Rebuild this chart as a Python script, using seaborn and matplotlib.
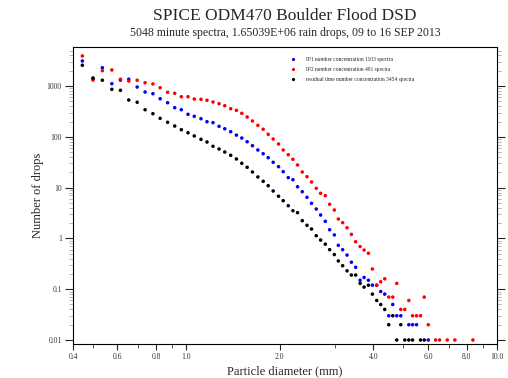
import numpy as np
import pandas as pd
import matplotlib
matplotlib.use('Agg')
import matplotlib.pyplot as plt
from matplotlib.ticker import FixedLocator, FixedFormatter, NullFormatter
import seaborn as sns

# bin centre diameters (mm)
diameter = [0.463, 0.501, 0.537, 0.576, 0.614, 0.653, 0.695, 0.737, 0.781, 0.824,
            0.871, 0.918, 0.964, 1.013, 1.061, 1.115, 1.166, 1.219, 1.275, 1.330,
            1.390, 1.450, 1.509, 1.570, 1.633, 1.700, 1.768, 1.835, 1.904, 1.981,
            2.051, 2.129, 2.204, 2.281, 2.362, 2.446, 2.530, 2.620, 2.706, 2.802,
            2.893, 2.996, 3.086, 3.186, 3.292, 3.399, 3.509, 3.626, 3.735, 3.856,
            3.972, 4.101, 4.225, 4.352, 4.484, 4.619, 4.758, 4.902, 5.050, 5.202,
            5.348, 5.508, 5.674, 5.832, 6.008, 6.345, 6.536, 6.918, 7.318, 8.366]

nan = np.nan
ip1_counts = [3110, 1370, 2290, 1110, 1300, 1360, 955, 762, 705, 562,
              469, 374, 341, 277, 253, 227, 198, 190, 161, 144,
              126, 108, 94.7, 80.1, 66.8, 55.0, 46.5, 38.8, 31.5, 25.8,
              20.6, 15.7, 14.3, 10.4, 8.30, 6.44, 4.91, 3.79, 2.89, 2.17,
              1.48, 1.17, 0.73, 0.60, 0.47, 0.34, 0.27, 0.15, 0.17, 0.15,
              0.12, 0.12, 0.09, 0.08, 0.03, 0.05, 0.03, 0.03, nan, 0.02,
              0.02, 0.02, nan, nan, 0.01, nan, nan, nan, nan, nan]
ip2_counts = [3900, 1310, 2000, 2070, 1360, 1250, 1300, 1160, 1100, 926,
              751, 718, 615, 615, 555, 547, 523, 484, 448, 409,
              357, 332, 290, 245, 205, 168, 141, 112, 90.5, 72.2,
              55.0, 44.4, 36.1, 27.9, 20.3, 16.4, 12.9, 9.69, 7.72, 6.93,
              4.69, 3.62, 2.41, 2.04, 1.62, 1.20, 0.86, 0.69, 0.59, 0.51,
              0.25, 0.12, 0.14, 0.16, 0.07, 0.07, 0.13, 0.04, 0.04, 0.06,
              0.03, 0.03, 0.03, 0.07, 0.02, 0.01, 0.01, 0.01, 0.01, 0.01]
resid_counts = [2560, 1440, 1300, 861, 823, 530, 478, 341, 285, 231,
                193, 163, 138, 120, 104, 89.3, 79.0, 65.0, 57.5, 50.2,
                43.2, 36.6, 30.1, 25.1, 20.3, 16.2, 13.3, 10.9, 8.57, 6.77,
                5.52, 4.40, 3.51, 3.21, 2.23, 1.81, 1.53, 1.13, 0.93, 0.77,
                0.60, 0.48, 0.36, 0.29, 0.23, 0.19, 0.19, 0.13, 0.11, 0.12,
                0.08, 0.06, 0.05, 0.04, 0.02, 0.03, 0.01, 0.02, 0.01, 0.01,
                0.01, nan, 0.01, 0.01, nan, nan, nan, nan, nan, nan]

series_labels = ['IP1 number concentration 1103 spectra',
                 'IP2 number concentration 491 spectra',
                 'residual time number concentration 3454 spectra']
series_colors = ['#0000ff', '#ff0000', '#000000']

x_ticks = [0.432, 0.6, 0.8, 1.0, 2.0, 4.0, 6.0, 8.0, 10.0]
x_ticklabels = ['0.4', '0.6', '0.8', '1.0', '2.0', '4.0', '6.0', '8.0', '10.0']
x_minor = [0.5, 0.7, 0.9, 3.0, 5.0, 7.0, 9.0]
y_ticks = [0.01, 0.1, 1, 10, 100, 1000]
y_ticklabels = ['0.01', '0.1', '1', '10', '100', '1000']

df = pd.DataFrame({'diameter': diameter,
                   series_labels[0]: ip1_counts,
                   series_labels[1]: ip2_counts,
                   series_labels[2]: resid_counts})
df = df.melt(id_vars='diameter', var_name='series', value_name='count').dropna()

sns.set_style('ticks')
plt.rcParams['font.family'] = ['Liberation Serif', 'DejaVu Serif']

fig = plt.figure(figsize=(5.08, 3.78), dpi=100)
ax = fig.add_axes([73/508, 34/378, 424/508, 297/378])

sns.scatterplot(data=df, x='diameter', y='count', hue='series', hue_order=series_labels,
                palette=dict(zip(series_labels, series_colors)), s=6.5, linewidth=0,
                ax=ax, legend=True)

ax.set_xscale('log')
ax.set_yscale('log')
ax.set_xlim(0.432, 10.0)
ax.set_ylim(0.00834, 5860)

ax.xaxis.set_major_locator(FixedLocator(x_ticks))
ax.xaxis.set_major_formatter(FixedFormatter(x_ticklabels))
ax.xaxis.set_minor_locator(FixedLocator(x_minor))
ax.xaxis.set_minor_formatter(NullFormatter())
ax.yaxis.set_major_locator(FixedLocator(y_ticks))
ax.yaxis.set_major_formatter(FixedFormatter(y_ticklabels))
ax.yaxis.set_minor_locator(FixedLocator([m * 10.0**e for e in range(-2, 4) for m in range(2, 10)]))
ax.yaxis.set_minor_formatter(NullFormatter())

for sp in ax.spines.values():
    sp.set_linewidth(0.8)
    sp.set_color('black')
    sp.set_visible(True)

ax.tick_params(axis='x', which='major', length=4.5, width=0.8, direction='out', labelsize=5.5,
               pad=2, labelcolor='#333333')
ax.tick_params(axis='x', which='minor', length=3, width=0.7, direction='out', color='#555555')
ax.tick_params(axis='y', which='major', length=6, width=0.8, direction='out', labelsize=5.5,
               pad=2, labelcolor='#333333', right=True)
ax.tick_params(axis='y', which='minor', length=3, width=0.5, direction='out', color='#999999',
               right=True)

ax.set_xlabel('Particle diameter (mm)', fontsize=9, labelpad=3)
ax.set_ylabel('Number of drops', fontsize=9, labelpad=2)

leg = ax.legend(loc='upper left', bbox_to_anchor=(0.50, 0.975), frameon=False, fontsize=4,
                labelspacing=0.85, handletextpad=1.2, markerscale=0.9, borderpad=0)

fig.text(285/508, 1 - 16/378, 'SPICE ODM470 Boulder Flood DSD', ha='center', va='center',
         fontsize=12.5)
fig.text(285/508, 1 - 33/378, '5048 minute spectra, 1.65039E+06 rain drops, 09 to 16 SEP 2013',
         ha='center', va='center', fontsize=8.5)

fig.savefig('out.png', dpi=100)
